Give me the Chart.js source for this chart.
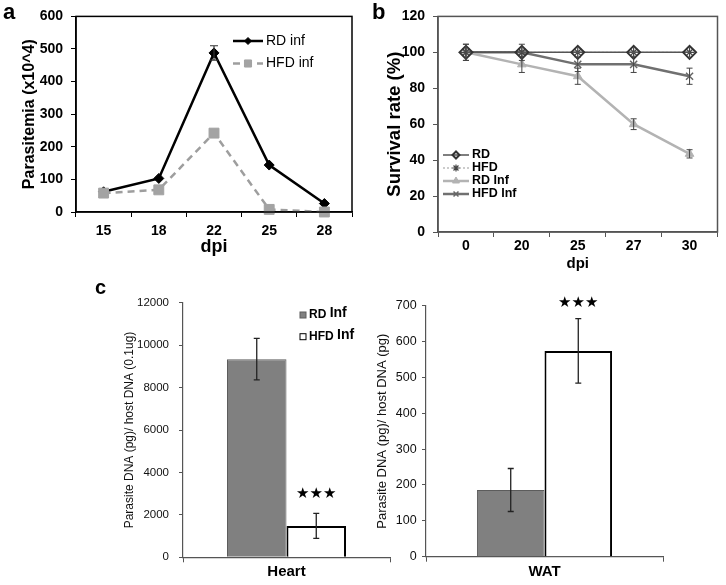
<!DOCTYPE html>
<html><head><meta charset="utf-8">
<script src="https://cdn.jsdelivr.net/npm/chart.js@4.4.1/dist/chart.umd.min.js"></script>
<style>
html,body{margin:0;padding:0;background:#fff;width:726px;height:585px;overflow:hidden;}
.p{position:absolute;}
.lbl{position:absolute;font-family:"Liberation Sans",Arial,sans-serif;font-weight:bold;color:#000;line-height:1;}
</style></head><body>
<div class="p" style="left:0;top:0"><canvas id="cA" width="363" height="260"></canvas></div>
<div class="p" style="left:363px;top:0"><canvas id="cB" width="363" height="276"></canvas></div>
<div class="p" style="left:80px;top:280px"><canvas id="cC" width="320" height="305"></canvas></div>
<div class="p" style="left:360px;top:280px"><canvas id="cD" width="320" height="305"></canvas></div>
<div class="lbl" style="left:3px;top:1px;font-size:22px">a</div>
<div class="lbl" style="left:372px;top:1px;font-size:22px">b</div>
<div class="lbl" style="left:95px;top:277px;font-size:20px">c</div>
<script>
// ---- Panel a data ----
const dpiA = ['15', '18', '22', '25', '28'];
const rdInfA = [62, 103, 488, 144, 26];
const rdInfErrA = [0, 0, 22, 0, 0];
const hfdInfA = [58, 68, 242, 8, 0];

// ---- Panel b data ----
const dpiB = ['0', '20', '25', '27', '30'];
const rdB = [100, 100, 100, 100, 100];
const hfdB = [100, 100, 100, 100, 100];
const rdInfB = [100, 93.3, 86.7, 60, 43.5];
const rdInfErrB = [4.5, 4.5, 4.5, 3, 2.3];
const hfdInfB = [100, 100, 93.3, 93.3, 86.7];
const hfdInfErrB = [4.5, 4.5, 4, 4.5, 4.5];

// ---- Panel c data ----
const heartCat = ['Heart'];
const heartRD = [9340];
const heartRDErr = [980];
const heartHFD = [1480];
const heartHFDErr = [590];
const heartSig = ['★★★'];

const watCat = ['WAT'];
const watRD = [186];
const watRDErr = [60];
const watHFD = [574];
const watHFDErr = [90];
const watSig = ['★★★'];

const FF = '"Liberation Sans", Arial, sans-serif';
Chart.defaults.font.family = FF;
Chart.defaults.color = '#000';
Chart.defaults.animation = false;
Chart.defaults.plugins.legend.display = false;
Chart.defaults.plugins.tooltip.enabled = false;

const framePlugin = {
  id: 'frame',
  afterDatasetsDraw(chart, args, o) {
    if (!o || !o.color) return;
    const {left, top, right, bottom} = chart.chartArea;
    const ctx = chart.ctx;
    ctx.save(); ctx.strokeStyle = o.color; ctx.lineWidth = o.width;
    ctx.strokeRect(left, top, right - left, bottom - top);
    ctx.restore();
  }
};

const errPlugin = {
  id: 'errbars',
  afterDatasetsDraw(chart, args, o) {
    const ctx = chart.ctx;
    chart.data.datasets.forEach((ds, di) => {
      if (!ds.errors) return;
      const meta = chart.getDatasetMeta(di);
      const ys = chart.scales[meta.yAxisID];
      ctx.save(); ctx.strokeStyle = o.color || '#000'; ctx.lineWidth = o.width || 1;
      meta.data.forEach((el, i) => {
        const e = ds.errors[i]; if (!e) return;
        const v = ds.data[i];
        const x = el.x, y1 = ys.getPixelForValue(v + e), y2 = ys.getPixelForValue(v - e);
        const c = o.cap || 3;
        ctx.beginPath();
        ctx.moveTo(x, y1); ctx.lineTo(x, y2);
        ctx.moveTo(x - c, y1); ctx.lineTo(x + c, y1);
        ctx.moveTo(x - c, y2); ctx.lineTo(x + c, y2);
        ctx.stroke();
      });
      ctx.restore();
    });
  }
};

const legPlugin = {
  id: 'inlegend',
  afterDraw(chart, args, o) {
    if (o.x === undefined) return;
    const ctx = chart.ctx;
    chart.data.datasets.forEach((ds, i) => {
      const y = o.y + i * o.dy;
      ctx.save();
      if (o.kind === 'box') {
        const s = o.box;
        ctx.fillStyle = ds.backgroundColor; ctx.strokeStyle = ds.borderColor; ctx.lineWidth = 1;
        ctx.fillRect(o.x, y - s / 2, s, s); ctx.strokeRect(o.x, y - s / 2, s, s);
        const parts = ds.label.split(' ');
        ctx.fillStyle = '#000'; ctx.textBaseline = 'middle'; ctx.textAlign = 'left';
        ctx.font = o.font1;
        let tx = o.x + s + o.gap;
        ctx.fillText(parts[0] + ' ', tx, y);
        tx += ctx.measureText(parts[0] + ' ').width;
        ctx.font = o.font2;
        ctx.fillText(parts.slice(1).join(' '), tx, y - 2);
      } else {
        ctx.strokeStyle = ds.borderColor; ctx.lineWidth = ds.borderWidth;
        ctx.setLineDash(ds.borderDash || []);
        ctx.beginPath(); ctx.moveTo(o.x, y); ctx.lineTo(o.x + o.len, y); ctx.stroke();
        ctx.setLineDash([]);
        ctx.fillStyle = ds.pointBackgroundColor; ctx.strokeStyle = ds.pointBorderColor;
        ctx.lineWidth = ds.pointBorderWidth || 1;
        Chart.helpers.drawPoint(ctx, {pointStyle: ds.pointStyle, radius: o.radii[i], rotation: 0, borderWidth: ds.pointBorderWidth || 1}, o.x + o.len / 2, y);
        ctx.fillStyle = '#000'; ctx.textBaseline = 'middle'; ctx.textAlign = 'left';
        ctx.font = o.font;
        ctx.fillText(ds.label, o.x + o.len + o.gap, y);
      }
      ctx.restore();
    });
  }
};

const sigPlugin = {
  id: 'sig',
  afterDatasetsDraw(chart, args, o) {
    const ctx = chart.ctx;
    chart.data.datasets.forEach((ds, di) => {
      if (!ds.sig) return;
      const meta = chart.getDatasetMeta(di), ys = chart.scales.y;
      meta.data.forEach((el, i) => {
        const s = ds.sig[i]; if (!s) return;
        const top = ys.getPixelForValue(ds.data[i] + (ds.errors ? ds.errors[i] : 0));
        ctx.save(); ctx.fillStyle = '#000'; ctx.font = o.font;
        ctx.textAlign = 'center'; ctx.textBaseline = 'middle';
        ctx.fillText(s, el.x, top - o.gap);
        ctx.restore();
      });
    });
  }
};

// ---------- Panel a ----------
new Chart(document.getElementById('cA'), {
  type: 'line',
  data: { labels: dpiA, datasets: [
    {label: 'RD inf', data: rdInfA, errors: rdInfErrA, order: 1, borderColor: '#000', borderWidth: 2.5,
     pointStyle: 'rectRot', pointRadius: 5, pointBackgroundColor: '#000', pointBorderColor: '#000', pointBorderWidth: 1, clip: false},
    {label: 'HFD inf', data: hfdInfA, order: 0, borderColor: '#9e9e9e', borderWidth: 2.5, borderDash: [7, 5],
     pointStyle: 'rect', pointRadius: 7, pointBackgroundColor: '#a3a3a3', pointBorderColor: '#a3a3a3', pointBorderWidth: 1, clip: false}
  ]},
  options: {
    responsive: false,
    layout: {padding: {left: 0, right: 11, top: 13, bottom: 0}},
    scales: {
      x: {offset: true, grid: {offset: true, drawOnChartArea: false, tickLength: 5, color: '#000'},
          border: {color: '#000', width: 1.5},
          ticks: {font: {size: 14, weight: 'bold'}, padding: 6, color: '#000'},
          title: {display: true, text: 'dpi', font: {size: 18, weight: 'bold'}, padding: {top: 0, bottom: 2}},
          afterFit(s) { s.height = 48; }},
      y: {min: 0, max: 600, ticks: {stepSize: 100, font: {size: 14, weight: 'bold'}, padding: 8, color: '#000'},
          grid: {drawOnChartArea: false, tickLength: 5, color: '#000'},
          border: {color: '#000', width: 1.5},
          title: {display: true, text: 'Parasitemia (x10^4)', font: {size: 16, weight: 'bold'}, padding: {top: 20, bottom: 0}},
          afterFit(s) { s.width = 76; }}
    },
    plugins: {
      frame: {color: '#000', width: 1.5},
      errbars: {color: '#333', width: 1.2, cap: 4},
      inlegend: {kind: 'line', x: 233, y: 41, dy: 22.5, len: 30, gap: 3, radii: [3.5, 5], font: '14px ' + FF}
    }
  },
  plugins: [framePlugin, errPlugin, legPlugin]
});

// ---------- Panel b ----------
new Chart(document.getElementById('cB'), {
  type: 'line',
  data: { labels: dpiB, datasets: [
    {label: 'RD', data: rdB, borderColor: '#555', borderWidth: 1.5, pointStyle: 'rectRot', pointRadius: 6.5,
     pointBackgroundColor: 'rgba(0,0,0,0)', pointBorderColor: '#333', pointBorderWidth: 2, clip: false},
    {label: 'HFD', data: hfdB, borderColor: '#999', borderWidth: 1, borderDash: [2, 2], pointStyle: 'star', pointRadius: 5,
     pointBackgroundColor: '#444', pointBorderColor: '#444', pointBorderWidth: 1.2, clip: false},
    {label: 'RD Inf', data: rdInfB, errors: rdInfErrB, borderColor: '#b3b3b3', borderWidth: 2.5, pointStyle: 'triangle', pointRadius: 5,
     pointBackgroundColor: '#b3b3b3', pointBorderColor: '#b3b3b3', pointBorderWidth: 1, clip: false},
    {label: 'HFD Inf', data: hfdInfB, errors: hfdInfErrB, borderColor: '#707070', borderWidth: 2.5, pointStyle: 'crossRot', pointRadius: 5,
     pointBackgroundColor: '#666', pointBorderColor: '#666', pointBorderWidth: 1.5, clip: false}
  ]},
  options: {
    responsive: false,
    layout: {padding: {left: 0, right: 6, top: 16, bottom: 0}},
    scales: {
      x: {offset: true, grid: {offset: true, drawOnChartArea: false, tickLength: 5, color: '#555'},
          border: {color: '#555', width: 1.5},
          ticks: {font: {size: 14, weight: 'bold'}, padding: 1, color: '#000'},
          title: {display: true, text: 'dpi', font: {size: 15, weight: 'bold'}, padding: {top: 0, bottom: 3}},
          afterFit(s) { s.height = 44; }},
      y: {min: 0, max: 120, ticks: {stepSize: 20, font: {size: 14, weight: 'bold'}, padding: 8, color: '#000'},
          grid: {drawOnChartArea: false, tickLength: 5, color: '#555'},
          border: {color: '#555', width: 1.5},
          title: {display: true, text: 'Survival rate (%)', font: {size: 18.5, weight: 'bold'}, padding: {top: 21, bottom: 0}},
          afterFit(s) { s.width = 75; }}
    },
    plugins: {
      frame: {color: '#555', width: 1.5},
      errbars: {color: '#444', width: 1, cap: 3},
      inlegend: {kind: 'line', x: 80, y: 155, dy: 13, len: 26, gap: 3, radii: [3.5, 3.5, 4, 3.5], font: 'bold 12.5px ' + FF}
    }
  },
  plugins: [framePlugin, errPlugin, legPlugin]
});

// ---------- Panel c ----------
function barChart(id, cats, rd, rdErr, hfd, hfdErr, sig, cfg) {
  new Chart(document.getElementById(id), {
    type: 'bar',
    data: { labels: cats, datasets: [
      {label: 'RD Inf', data: rd, errors: rdErr, backgroundColor: '#808080', borderColor: '#5c5c5c', borderWidth: 1,
       barPercentage: 1, categoryPercentage: cfg.catPct},
      {label: 'HFD Inf', data: hfd, errors: hfdErr, sig: sig, backgroundColor: '#fff', borderColor: '#000', borderWidth: 2,
       barPercentage: 1, categoryPercentage: cfg.catPct}
    ]},
    options: {
      responsive: false,
      layout: {padding: cfg.pad},
      scales: {
        x: {grid: {offset: true, drawOnChartArea: false, tickLength: 5, color: '#555'},
            border: {color: '#555', width: 1.2},
            ticks: {font: {size: 15, weight: 'bold'}, padding: cfg.xPad, color: '#000'},
            afterFit(s) { s.height = cfg.xH; }},
        y: {min: 0, max: cfg.max, ticks: {stepSize: cfg.step, format: {useGrouping: false}, font: {size: cfg.tickSize}, padding: cfg.yPad, color: '#111'},
            grid: {drawOnChartArea: false, tickLength: 4, color: '#555'},
            border: {color: '#555', width: 1.2},
            title: {display: true, text: cfg.title, font: {size: cfg.titleSize}, color: '#111', padding: {top: cfg.titlePad, bottom: 0}},
            afterFit(s) { s.width = cfg.yW; }}
      },
      plugins: {
        errbars: {color: '#222', width: 1.3, cap: 3},
        sig: {font: '15px "DejaVu Sans", sans-serif', gap: cfg.sigGap},
        inlegend: cfg.legend
      }
    },
    plugins: [errPlugin, sigPlugin, legPlugin]
  });
}

barChart('cC', heartCat, heartRD, heartRDErr, heartHFD, heartHFDErr, heartSig, {
  catPct: 0.575, pad: {left: 0, right: 10, top: 22.7, bottom: 0}, xPad: 1, xH: 27.7,
  max: 12000, step: 2000, tickSize: 11.5, yPad: 10, title: 'Parasite DNA (pg)/ host DNA (0.1ug)', titleSize: 12,
  titlePad: 42.8, yW: 103, sigGap: 19,
  legend: {kind: 'box', x: 220, y: 35, dy: 21.7, box: 6, gap: 3, font1: 'bold 12px ' + FF, font2: 'bold 14px ' + FF}
});

barChart('cD', watCat, watRD, watRDErr, watHFD, watHFDErr, watSig, {
  catPct: 0.57, pad: {left: 0, right: 17, top: 25.7, bottom: 0}, xPad: 1.3, xH: 28.3,
  max: 700, step: 100, tickSize: 12.5, yPad: 5.3, title: 'Parasite DNA (pg)/ host DNA (pg)', titleSize: 13,
  titlePad: 14.2, yW: 66, sigGap: 15,
  legend: {}
});
</script>
</body></html>
